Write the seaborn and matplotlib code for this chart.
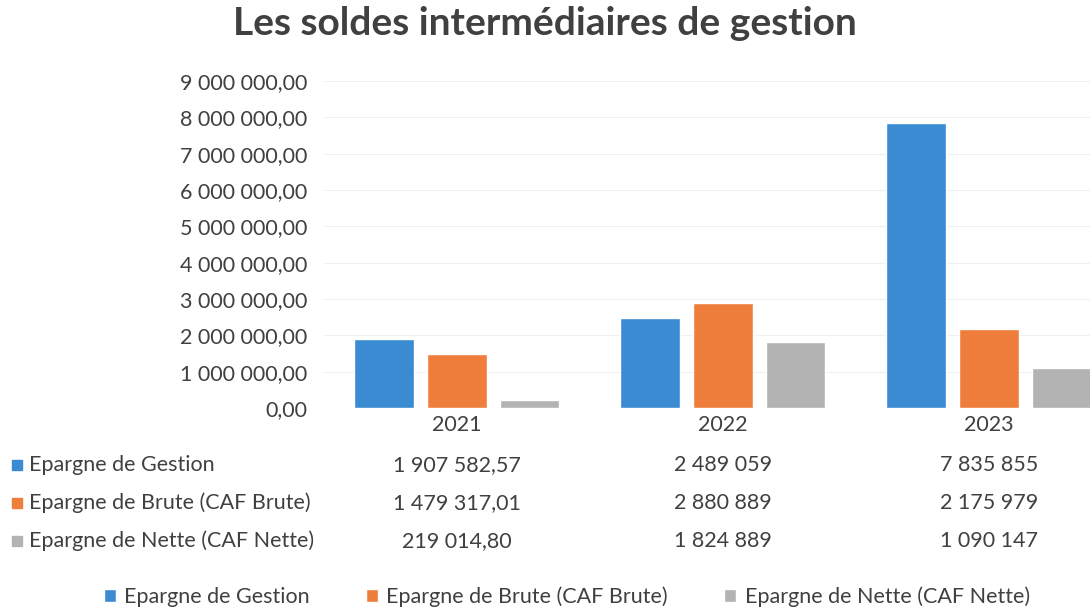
import pandas as pd
import matplotlib.pyplot as plt
import matplotlib.transforms as mtransforms
from matplotlib.patches import Rectangle
import seaborn as sns

# Data
years = ["2021", "2022", "2023"]
series = ["Epargne de Gestion", "Epargne de Brute (CAF Brute)", "Epargne de Nette (CAF Nette)"]
gestion = [1907582.57, 2489059, 7835855]
brute = [1479317.01, 2880889, 2175979]
nette = [219014.80, 1824889, 1090147]

# Table labels as printed in the data table
gestion_txt = ["1 907 582,57", "2 489 059", "7 835 855"]
brute_txt = ["1 479 317,01", "2 880 889", "2 175 979"]
nette_txt = ["219 014,80", "1 824 889", "1 090 147"]

colors = ["#3b8bd2", "#ef7e3c", "#b3b3b3"]
text_color = "#404040"
fs = 15.5

df = pd.DataFrame({
    "year": years * 3,
    "series": [series[0]] * 3 + [series[1]] * 3 + [series[2]] * 3,
    "value": gestion + brute + nette,
})

sns.set_theme(style="white")
plt.rcParams["font.family"] = ["Lato", "DejaVu Sans"]

fig = plt.figure(figsize=(10.9, 6.09), dpi=100)
ax = fig.add_axes([0.297, 0.33, 0.703, 0.537])

sns.barplot(data=df, x="year", y="value", hue="series", hue_order=series,
            palette=colors, width=0.82, gap=0.18, ax=ax, saturation=1)

ax.set_ylim(0, 9000000)
ax.set_xlim(-0.5, 2.38)
ax.set_yticks(range(0, 9000001, 1000000))
ax.yaxis.set_major_formatter(
    plt.FuncFormatter(lambda v, p: f"{v:,.2f}".replace(",", " ").replace(".", ",")))
ax.tick_params(axis="y", labelsize=fs, labelcolor=text_color, pad=12, length=0)
ax.tick_params(axis="x", labelsize=fs, labelcolor=text_color, pad=5, length=0)
ax.set_xlabel("")
ax.set_ylabel("")
ax.grid(axis="y", color="#f0f0f0", linewidth=0.8)
ax.set_axisbelow(True)
for s in ax.spines.values():
    s.set_visible(False)

handles, labels = ax.get_legend_handles_labels()
ax.get_legend().remove()

fig.suptitle("Les soldes intermédiaires de gestion", x=0.50, y=0.99,
             fontsize=28, fontweight="bold", color=text_color)

# Data table under the chart
trans = mtransforms.blended_transform_factory(ax.transData, fig.transFigure)
rows_y = [1 - 465 / 609, 1 - 503 / 609, 1 - 541 / 609]
rows_txt = [gestion_txt, brute_txt, nette_txt]
for i, name in enumerate(series):
    y = rows_y[i]
    fig.patches.append(Rectangle((12 / 1090, y - 0.009), 10 / 1090, 10 / 609,
                                 transform=fig.transFigure, color=colors[i]))
    fig.text(29 / 1090, y, name, fontsize=fs, color=text_color, va="center")
    for j, t in enumerate(rows_txt[i]):
        ax.text(j, y, t, transform=trans, fontsize=fs, color=text_color,
                ha="center", va="center")

fig.legend(handles, labels, loc="center", bbox_to_anchor=(0.52, 1 - 597 / 609),
           ncol=3, frameon=False, fontsize=fs, labelcolor=text_color,
           handlelength=0.55, handleheight=0.55, handletextpad=0.4, columnspacing=2.6)

plt.savefig("out.png", dpi=100)
